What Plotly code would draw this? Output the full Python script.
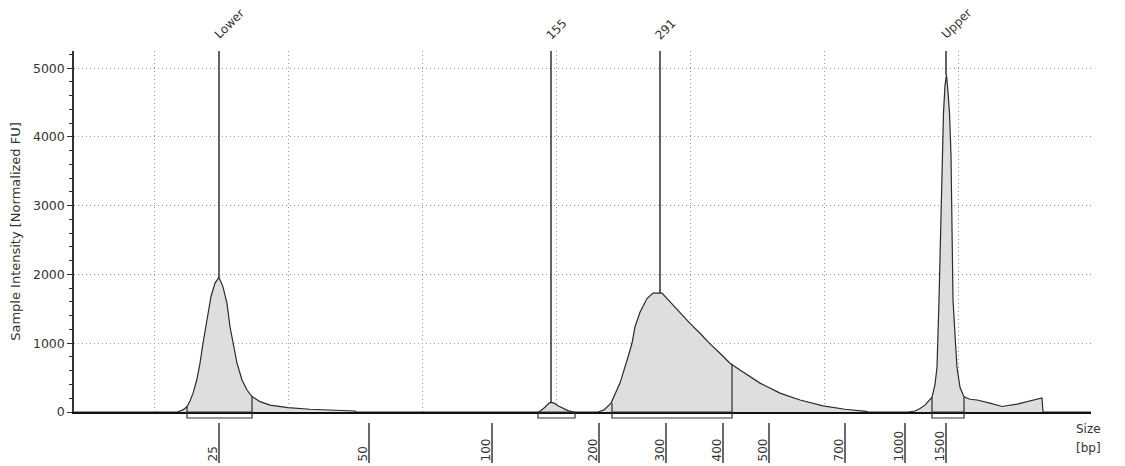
import plotly.graph_objects as go

# Electropherogram trace (migration position, intensity in normalized FU)
position = [74, 177, 183, 187, 190, 193, 197, 200, 203, 207, 211, 215, 219, 223, 227, 230, 233, 237, 242, 247,
            252, 260, 270, 288, 310, 340, 355, 356,
            539, 545, 549, 551, 554, 558, 563, 568, 572, 573,
            598, 604, 611, 620, 628, 632, 635, 640, 647, 653, 662, 670, 680, 690, 700, 710, 720, 730, 740, 750,
            760, 780, 800, 823, 845, 866, 868,
            908, 915, 920, 925, 928, 932, 935, 937, 939, 941, 942.5, 943.5, 945, 946.5, 948, 949.5, 951, 953,
            955.5, 957, 960, 964, 970, 977, 990, 1002, 1017, 1030, 1040, 1042, 1043, 1091]
intensity = [0, 0, 30, 80, 160, 270, 480, 710, 1000, 1340, 1680, 1875, 1957, 1820, 1580, 1240, 1000, 710, 465, 320,
             225, 150, 100, 63, 40, 22, 15, 0,
             0, 70, 130, 140, 130, 90, 50, 20, 5, 0,
             0, 30, 130, 420, 800, 1000, 1240, 1450, 1650, 1730, 1730, 1600, 1450, 1290, 1145, 990, 855, 710, 610, 510,
             420, 275, 175, 90, 40, 10, 0,
             0, 15, 50, 100, 150, 215, 400, 650, 1630, 3000, 3740, 4350, 4750, 4900, 4650, 4350, 3740, 1630,
             1000, 650, 360, 220, 185, 175, 130, 80, 115, 160, 200, 205, 0, 0]

# Size ladder (bp) and its migration positions
ladder_sizes = ["25", "50", "100", "200", "300", "400", "500", "700", "1000", "1500"]
ladder_positions = [219, 369, 492, 599, 666, 723, 769, 845, 905, 946]

# Called peaks
peak_names = ["Lower", "155", "291", "Upper"]
peak_positions = [219, 551, 660, 946]
peak_heights = [1957, 140, 1730, 4900]

# Integration regions
region_starts = [187, 538, 612, 932]
region_ends = [252, 575, 732, 964]
region_start_values = [80, 0, 130, 215]
region_end_values = [225, 0, 700, 220]

Y_TOP = 5250
FONT = "DejaVu Sans, Verdana, sans-serif"
TXT = "#333333"
GRID_DASH = "1px,3px"

fig = go.Figure()

fig.add_trace(go.Scatter(
    x=position, y=intensity, mode="lines", fill="tozeroy",
    fillcolor="#dedede", line=dict(color="#2b2b2b", width=1.2),
    hoverinfo="skip", showlegend=False))

# region side lines
for s, e, sv, ev in zip(region_starts, region_ends, region_start_values, region_end_values):
    for xv, yv in ((s, sv), (e, ev)):
        if yv > 0:
            fig.add_trace(go.Scatter(x=[xv, xv], y=[0, yv], mode="lines",
                                     line=dict(color="#2b2b2b", width=1.2),
                                     hoverinfo="skip", showlegend=False))

# peak marker lines
for p, h in zip(peak_positions, peak_heights):
    fig.add_trace(go.Scatter(x=[p, p], y=[h, Y_TOP], mode="lines",
                             line=dict(color="#111111", width=1.3),
                             hoverinfo="skip", showlegend=False))

shapes = []
# region brackets below baseline
for s, e in zip(region_starts, region_ends):
    shapes.append(dict(type="rect", xref="x", yref="paper", ysizemode="pixel", yanchor=0,
                       x0=s, x1=e, y0=-6, y1=0, line=dict(color="#333333", width=1.2),
                       fillcolor="rgba(0,0,0,0)"))
# ladder ticks
for lp in ladder_positions:
    shapes.append(dict(type="line", xref="x", yref="paper", ysizemode="pixel", yanchor=0,
                       x0=lp, x1=lp, y0=-11, y1=-51, line=dict(color="#444444", width=1.6)))

annotations = []
for name, lp in zip(ladder_sizes, ladder_positions):
    annotations.append(dict(x=lp, xref="x", y=0, yref="paper", yshift=-52, xshift=2,
                            xanchor="right", yanchor="bottom", text=name, textangle=-90,
                            showarrow=False, font=dict(family=FONT, size=12, color=TXT)))
for name, p in zip(peak_names, peak_positions):
    annotations.append(dict(x=p, xref="x", y=1, yref="paper", xshift=-10, yshift=6,
                            xanchor="left", yanchor="bottom", text=name, textangle=-45,
                            showarrow=False, font=dict(family=FONT, size=12, color=TXT)))
annotations.append(dict(x=1, xref="paper", y=0, yref="paper", xshift=-3, yshift=-8,
                        xanchor="center", yanchor="top", text="Size",
                        showarrow=False, font=dict(family=FONT, size=12, color=TXT)))
annotations.append(dict(x=1, xref="paper", y=0, yref="paper", xshift=-3, yshift=-27,
                        xanchor="center", yanchor="top", text="[bp]",
                        showarrow=False, font=dict(family=FONT, size=12, color=TXT)))

# page body has an 8px margin: compensate so the plot area lands where the reference has it
fig.update_layout(
    width=1117, height=458,
    margin=dict(l=66, r=34, t=43, b=54, autoexpand=False),
    paper_bgcolor="white", plot_bgcolor="white",
    font=dict(family=FONT, color=TXT),
    shapes=shapes, annotations=annotations,
    showlegend=False,
    xaxis=dict(range=[74, 1091], tick0=20, dtick=134, showticklabels=False, ticks="",
               showgrid=True, gridcolor="#9a9a9a", griddash=GRID_DASH, gridwidth=1,
               zeroline=False, showline=True, linecolor="#111111", linewidth=2, layer="below traces",
               automargin=False),
    yaxis=dict(range=[0, Y_TOP], dtick=1000, ticks="outside", ticklen=5, tickcolor="#333333",
               tickfont=dict(family=FONT, size=12.5, color=TXT),
               showgrid=True, gridcolor="#9a9a9a", griddash=GRID_DASH, gridwidth=1,
               zeroline=False, showline=True, linecolor="#333333", linewidth=1.5,
               minor=dict(dtick=200, ticks="outside", ticklen=3, tickcolor="#333333", showgrid=False),
               automargin=False,
               title=dict(text="Sample Intensity [Normalized FU]", standoff=10,
                          font=dict(family=FONT, size=13, color=TXT))),
)

fig.write_html("out.html")
